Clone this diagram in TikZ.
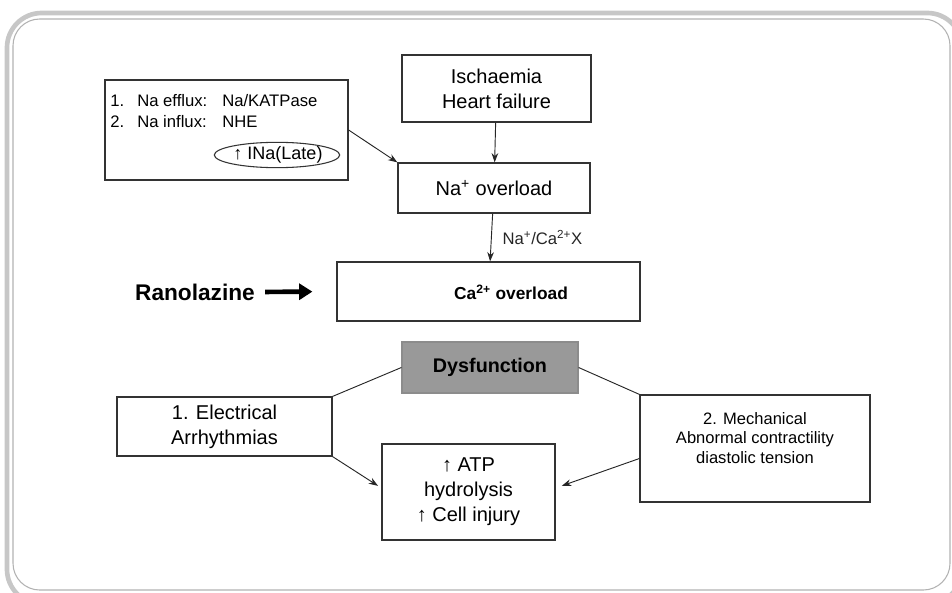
\documentclass[tikz,border=0pt]{standalone}
\usepackage{fontspec}
\setmainfont{Liberation Sans}
\usetikzlibrary{arrows.meta,shapes.geometric}

\begin{document}
\begin{tikzpicture}[x=0.75pt,y=-0.75pt,
	box/.style={draw=black!80,line width=0.9pt,rectangle,inner sep=0pt,align=center,font=\fontsize{15}{18.75}\selectfont},
	arr/.style={-{Stealth[length=7pt,width=5pt]},black!85,line width=0.7pt},
	lnk/.style={black!85,line width=0.7pt},
	small/.style={font=\fontsize{12.5}{15}\selectfont,inner sep=0pt}]
	\useasboundingbox (0,0) rectangle (952,592);
	\draw[black!22,line width=3.5pt,rounded corners=26pt] (7,13) rectangle (962,604);
	\draw[black!30,line width=0.8pt,rounded corners=20pt] (13,19) rectangle (950,590);

	\node[box,minimum width=182.25pt,minimum height=75pt] (pumps) at (226.5,130) {};
	\node[small,anchor=base west] (one) at (110,106) {1.};
	\node[small,anchor=base west] (efflux) at (137,106) {Na efflux:};
	\node[small,anchor=base west] (katp) at (222,106) {Na/KATPase};
	\node[small,anchor=base west] (two) at (110,127) {2.};
	\node[small,anchor=base west] (influx) at (137,127) {Na influx:};
	\node[small,anchor=base west] (nhe) at (222,127) {NHE};
	\node[draw=black!80,line width=0.8pt,ellipse,inner sep=0pt,minimum width=94pt,minimum height=19pt] (inalate) at (277,155) {};
	\node[inner sep=0pt,font=\fontsize{13.5}{16}\selectfont] (inatext) at (278,155) {↑ INa(Late)};

	\node[box,minimum width=141.75pt,minimum height=50.25pt] (isch) at (496.5,88.5) {Ischaemia\\Heart failure};
	\node[box,minimum width=144pt,minimum height=37.5pt] (naover) at (494,188) {Na\textsuperscript{+} overload};
	\node[box,minimum width=227.25pt,minimum height=44.25pt] (caover) at (488.5,291.5) {};
	\node[inner sep=0pt,font=\fontsize{13}{16}\bfseries] (catext) at (511,292) {Ca\textsuperscript{2+} overload};
	\node[font=\fontsize{17}{20}\bfseries,inner sep=0pt] (rano) at (195,292) {Ranolazine};
	\node[box,draw=black!45,fill=black!40,minimum width=132pt,minimum height=38.25pt,font=\fontsize{14.8}{17}\bfseries] (dysf) at (490,367.5) {Dysfunction};
	\node[box,minimum width=161.25pt,minimum height=44.25pt] (elec) at (224.5,426.5) {1. Electrical\\Arrhythmias};
	\node[box,minimum width=129.75pt,minimum height=72pt] (atp) at (468.5,492) {↑ ATP\\hydrolysis\\↑ Cell injury};
	\node[box,minimum width=172.5pt,minimum height=80.25pt] (mech) at (755,448.5) {};
	\node[small,align=center,font=\fontsize{12.4}{14.6}\selectfont] (mechtext) at (755,438) {2. Mechanical\\Abnormal contractility\\diastolic tension};

	\draw[arr] (isch) -- (naover);
	\draw[arr] (naover) -- node[right,small,xshift=8pt] {Na\textsuperscript{+}/Ca\textsuperscript{2+}X} (caover);
	\draw[arr] (pumps.east) -- (naover.north west);
	\draw[-{Triangle[length=10pt,width=12pt]},line width=3.5pt,shorten <=7.5pt,shorten >=18pt] (rano.east) -- (caover.west);
	\draw[lnk] (dysf.west) -- (elec.north east);
	\draw[lnk] (dysf.east) -- (mech.north west);
	\draw[arr,shorten >=3pt] (elec.south east) -- ([yshift=3pt]atp.west);
	\draw[arr,shorten >=5pt] ([yshift=-7.5pt]mech.west) -- ([yshift=3pt]atp.east);
\end{tikzpicture}
\end{document}
